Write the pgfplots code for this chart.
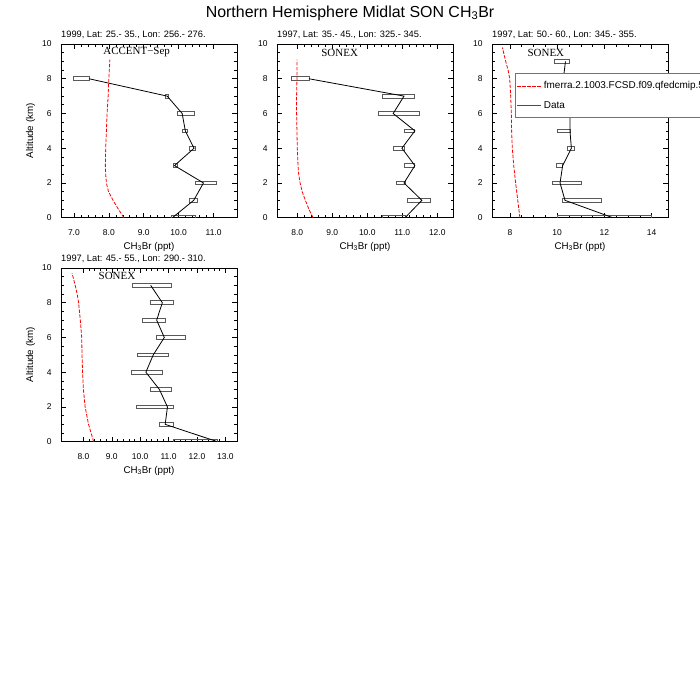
\documentclass[border=0pt]{standalone}
\usepackage{fontspec}
\setmainfont{Liberation Sans}
\newfontfamily\serif{Liberation Serif}
\usepackage{pgfplots}
\usepackage{pgfplotstable}
\pgfplotsset{compat=1.18}

% observations: altitude, box left/right, profile value
\pgfplotstableread{
alt lo hi mean
0 9.79 10.47 9.82
1 10.30 10.55 10.43
2 10.48 11.07 10.71
3 9.84 9.97 9.88
4 10.30 10.49 10.44
5 10.12 10.26 10.19
6 9.96 10.44 10.10
7 9.63 9.71 9.67
8 6.98 7.44 7.43
}\obsA
\pgfplotstableread{
alt lo hi mean
0 10.43 11.08 11.08
1 11.15 11.81 11.56
2 10.84 11.08 11.05
3 11.06 11.36 11.36
4 10.74 11.06 10.99
5 11.06 11.36 11.36
6 10.31 11.48 10.74
7 10.43 11.36 11.05
8 7.84 8.34 8.33
}\obsB
\pgfplotstableread{
alt lo hi mean
0 10.00 14.00 12.35
1 10.21 11.85 10.33
2 9.79 11.03 10.12
3 9.98 10.23 10.23
4 10.43 10.74 10.60
5 10.00 10.54 10.54
6 10.12 10.74 10.54
7 10.00 10.74 10.40
8 9.90 10.64 10.26
9 9.86 10.52 10.35
}\obsC
\pgfplotstableread{
alt lo hi mean
0 11.17 12.72 12.72
1 10.68 11.17 10.88
2 9.86 11.17 10.96
3 10.37 11.09 10.68
4 9.70 10.79 10.20
5 9.90 10.99 10.46
6 10.56 11.60 10.85
7 10.06 10.90 10.58
8 10.37 11.17 10.78
9 9.74 11.09 10.37
}\obsD

% model profiles
\pgfplotstableread{
alt val
0.0 8.43
0.5 8.27
1.0 8.12
1.5 7.99
2.0 7.93
2.5 7.91
3.0 7.90
4.0 7.91
5.0 7.93
6.0 7.95
7.0 7.98
8.0 8.00
9.1 8.03
}\modA
\pgfplotstableread{
alt val
0.0 8.45
0.5 8.33
1.0 8.23
1.5 8.14
2.0 8.08
2.5 8.04
3.0 8.02
4.0 8.00
5.0 7.99
6.0 7.98
7.0 7.98
8.0 7.99
9.1 7.99
}\modB
\pgfplotstableread{
alt val
0.0 8.42
1.0 8.33
2.0 8.24
3.0 8.16
4.0 8.10
5.0 8.07
6.0 8.06
7.0 8.03
8.0 7.99
8.5 7.92
9.0 7.82
9.8 7.68
}\modC
\pgfplotstableread{
alt val
0.0 8.36
1.0 8.18
2.0 8.06
3.0 8.00
4.0 7.97
5.0 7.95
6.0 7.94
7.0 7.89
8.0 7.83
8.5 7.78
9.0 7.71
9.7 7.60
}\modD

\tikzset{campaign/.style={font=\serif\fontsize{11}{13}\selectfont}}
\pgfplotsset{
  panel/.style={
    scale only axis, width=176bp, height=173.7bp, anchor=south west,
    ymin=0, ymax=10, ytick={0,2,...,10}, minor y tick num=3,
    tick align=inside, tick pos=both,
    major tick length=5bp, minor tick length=2.5bp,
    tick style={black, line width=0.6bp},
    axis line style={line width=0.7bp},
    ticklabel style={font=\fontsize{8.5}{10}\selectfont},
    xticklabel style={yshift=-8bp},
    yticklabel style={xshift=-6bp},
    /pgf/number format/assume math mode=true,
    xlabel={CH\textsubscript{3}Br (ppt)},
    label style={font=\fontsize{9.8}{12}\selectfont},
    title style={font=\fontsize{9.3}{11}\selectfont, at={(0,1)}, anchor=base west, inner sep=0pt, yshift=0.5bp},
  },
  onedec/.style={xticklabel style={/pgf/number format/.cd, fixed, fixed zerofill, precision=1}},
  boxlo/.style={xbar stacked, bar width=0.22, draw=none, fill=none, forget plot},
  boxhi/.style={xbar stacked, bar width=0.22, draw=black!65, line width=0.8bp, fill=none, forget plot},
  meanline/.style={black, line width=0.8bp, mark=none, forget plot},
  model/.style={red, line width=0.8bp, dash pattern=on 3.5bp off 1.5bp, mark=none, forget plot},
}

\begin{document}
\begin{tikzpicture}
\useasboundingbox (0,0) rectangle (700bp,-700bp);
\node[font=\fontsize{16}{19}\selectfont] at (350bp,-13bp) {Northern Hemisphere Midlat SON CH\textsubscript{3}Br};

\begin{axis}[panel, at={(61bp,-217.7bp)}, xmin=6.63, xmax=11.67, xtick={7,8,9,10,11}, minor x tick num=4, onedec,
  ylabel={Altitude (km)}, title={1999, Lat: 25.- 35., Lon: 256.- 276.}]
\addplot[boxlo] table[x=lo, y=alt] {\obsA};
\addplot[boxhi] table[x expr=\thisrow{hi}-\thisrow{lo}, y=alt] {\obsA};
\addplot[meanline] table[x=mean, y=alt] {\obsA};
\addplot[model] table[x=val, y=alt] {\modA};
\node[campaign] at (rel axis cs:0.43,0.952) {ACCENT−Sep};
\end{axis}

\begin{axis}[panel, at={(277bp,-217.7bp)}, xmin=7.42, xmax=12.45, xtick={8,9,10,11,12}, minor x tick num=4, onedec,
  title={1997, Lat: 35.- 45., Lon: 325.- 345.}]
\addplot[boxlo] table[x=lo, y=alt] {\obsB};
\addplot[boxhi] table[x expr=\thisrow{hi}-\thisrow{lo}, y=alt] {\obsB};
\addplot[meanline] table[x=mean, y=alt] {\obsB};
\addplot[model] table[x=val, y=alt] {\modB};
\node[campaign] at (rel axis cs:0.356,0.947) {SONEX};
\end{axis}

\begin{axis}[panel, at={(492bp,-217.7bp)}, xmin=7.24, xmax=14.69, xtick={8,10,12,14}, minor x tick num=3,
  title={1997, Lat: 50.- 60., Lon: 345.- 355.},
  legend style={at={(0.1307,0.831)}, anchor=north west, draw=black!55, line width=0.8bp,
    font=\fontsize{10}{12}\selectfont, row sep=7bp, inner xsep=1bp, inner ysep=6bp, fill=white},
  legend cell align=left,
  legend image code/.code={\draw[#1] (0bp,0bp) -- (24bp,0bp);}]
\addplot[boxlo] table[x=lo, y=alt] {\obsC};
\addplot[boxhi] table[x expr=\thisrow{hi}-\thisrow{lo}, y=alt] {\obsC};
\addplot[meanline] table[x=mean, y=alt] {\obsC};
\addplot[model] table[x=val, y=alt] {\modC};
\node[campaign] at (rel axis cs:0.306,0.947) {SONEX};
\addlegendimage{red, line width=0.8bp, dash pattern=on 3.5bp off 1.5bp}
\addlegendentry{fmerra.2.1003.FCSD.f09.qfedcmip.56L.001}
\addlegendimage{black!70, line width=1.5bp}
\addlegendentry{Data}
\end{axis}

\begin{axis}[panel, at={(61bp,-441.7bp)}, xmin=7.21, xmax=13.41, xtick={8,9,10,11,12,13}, minor x tick num=4, onedec,
  ylabel={Altitude (km)}, title={1997, Lat: 45.- 55., Lon: 290.- 310.}]
\addplot[boxlo] table[x=lo, y=alt] {\obsD};
\addplot[boxhi] table[x expr=\thisrow{hi}-\thisrow{lo}, y=alt] {\obsD};
\addplot[meanline] table[x=mean, y=alt] {\obsD};
\addplot[model] table[x=val, y=alt] {\modD};
\node[campaign] at (rel axis cs:0.318,0.956) {SONEX};
\end{axis}
\end{tikzpicture}
\end{document}
